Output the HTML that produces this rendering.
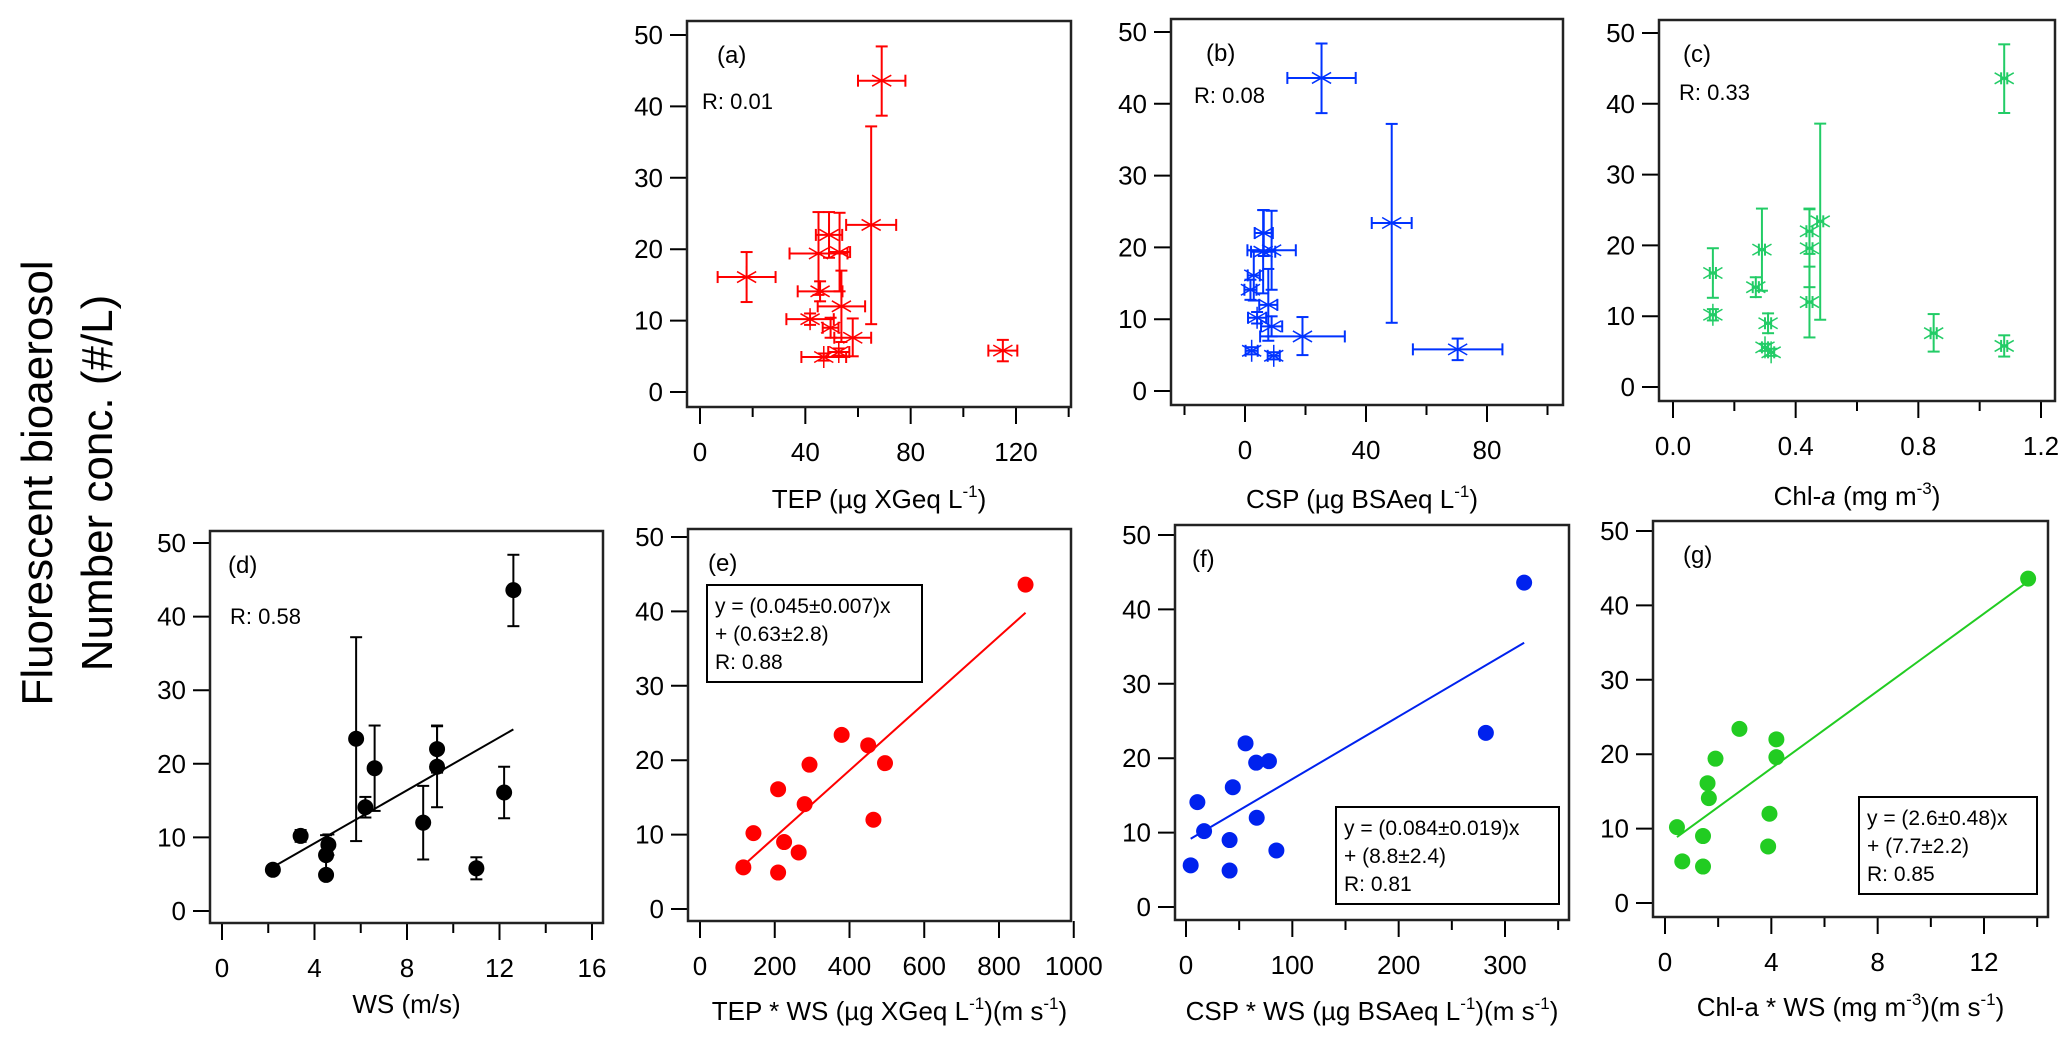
<!DOCTYPE html>
<html><head><meta charset="utf-8"><style>
html,body{margin:0;padding:0;background:#fff;}
svg{display:block;font-family:"Liberation Sans",Arial,sans-serif;}
</style></head><body>
<svg id="fig" width="2067" height="1047" viewBox="0 0 2067 1047" xmlns="http://www.w3.org/2000/svg">
<g font-size="44" fill="#000" text-anchor="middle">
<text transform="translate(52,483) rotate(-90)">Fluorescent bioaerosol</text>
<text transform="translate(112,483) rotate(-90)">Number conc. (#/L)</text>
</g>
</svg>
<script>
// ---- data (14 sampling points) ----
const concVals  = [5.6, 10.2, 4.9, 7.6, 9.0, 23.4, 14.1, 19.4, 12.0, 22.0, 19.6, 5.8, 16.1, 43.6];
const concLow   = [5.1, 9.4, 4.4, 5.0, 7.6, 9.5, 12.7, 13.6, 7.0, 18.8, 14.1, 4.3, 12.6, 38.7];
const concHigh  = [6.1, 11.0, 5.4, 10.3, 10.4, 37.2, 15.5, 25.2, 17.0, 25.2, 25.1, 7.3, 19.6, 48.4];
const wsVals    = [2.2, 3.4, 4.5, 4.5, 4.6, 5.8, 6.2, 6.6, 8.7, 9.3, 9.3, 11.0, 12.2, 12.6];
const tepVals   = [52.7, 41.8, 47, 58, 49.6, 65, 45.6, 45, 53.7, 49, 53, 115, 17.7, 69];
const tepErr    = [4, 9, 8.5, 7, 3, 9.5, 8.5, 11, 9, 5, 4, 5.5, 11, 9];
const cspVals   = [2.2, 4, 9.5, 19, 8.8, 48.5, 1.8, 6, 7.7, 6.2, 8.8, 70.3, 2.9, 25.3];
const cspErr    = [2, 3, 2, 14, 3.5, 6.6, 2, 4, 3, 3, 8, 14.8, 2, 11.3];
const chlVals   = [0.30, 0.13, 0.32, 0.85, 0.31, 0.48, 0.27, 0.29, 0.445, 0.445, 0.445, 1.08, 0.13, 1.08];
const chlErr    = [0.01, 0.01, 0.01, 0.01, 0.01, 0.01, 0.01, 0.01, 0.01, 0.01, 0.01, 0.01, 0.01, 0.01];
const tepWsVals = [116, 143, 209, 264, 225, 379, 280, 293, 464, 450, 495, null, 209, 871];
const cspWsVals = [4.4, 17, 41, 85, 41, 282, 10.7, 66, 66.5, 56, 78, null, 44, 318];
const chlWsVals = [0.65, 0.45, 1.43, 3.88, 1.43, 2.8, 1.65, 1.9, 3.93, 4.19, 4.19, null, 1.6, 13.66];
const fitSlopes     = [1.8, 0.045, 0.084, 2.6];
const fitIntercepts = [2.0, 0.63, 8.8, 7.7];
const yTicks = [0, 10, 20, 30, 40, 50];
const xTicksA = [0, 40, 80, 120];   const xMinorA = [20, 60, 100, 140];
const xTicksB = [0, 40, 80];        const xMinorB = [-20, 20, 60, 100];
const xTicksC = [0.0, 0.4, 0.8, 1.2]; const xMinorC = [0.2, 0.6, 1.0];
const xTicksD = [0, 4, 8, 12, 16];  const xMinorD = [2, 6, 10, 14];
const xTicksE = [0, 200, 400, 600, 800, 1000]; const xMinorE = [];
const xTicksF = [0, 100, 200, 300]; const xMinorF = [50, 150, 250, 350];
const xTicksG = [0, 4, 8, 12];      const xMinorG = [2, 6, 10, 14];

const NS = "http://www.w3.org/2000/svg";
const svg = document.getElementById('fig');
function mk(tag, attrs, parent) {
  const e = document.createElementNS(NS, tag);
  for (const k in attrs) e.setAttribute(k, attrs[k]);
  (parent || svg).appendChild(e);
  return e;
}
function txt(parent, x, y, s, size, anchor) {
  const t = mk('text', {x: x, y: y, 'font-size': size, 'text-anchor': anchor || 'start', fill: '#000'}, parent);
  t.innerHTML = s;
  return t;
}

function panel(cfg) {
  const g = mk('g', {});
  
  
  const b = cfg.box;
  const sx = v => cfg.xr[1] + (v - cfg.xr[0]) * (cfg.xr[3] - cfg.xr[1]) / (cfg.xr[2] - cfg.xr[0]);
  const sy = v => cfg.yr[0] + (v - 0) * (cfg.yr[1] - cfg.yr[0]) / 50;
  const clipId = 'clip-' + cfg.id;
  const cp = mk('clipPath', {id: clipId}, g);
  mk('rect', {x: b.l, y: b.t, width: b.r - b.l, height: b.b - b.t}, cp);
  const ya = mk('g', {stroke: '#000', 'stroke-width': 2}, g);
  
  
  yTicks.forEach(v => {
    mk('line', {x1: b.l - 17, x2: b.l, y1: sy(v), y2: sy(v)}, ya);
    const t = txt(g, b.l - 24, sy(v) + 9, String(v), 26, 'end');
    
    
  });
  const xa = mk('g', {stroke: '#000', 'stroke-width': 2}, g);
  
  
  cfg.xt.forEach(v => {
    mk('line', {x1: sx(v), x2: sx(v), y1: b.b, y2: b.b + 17}, xa);
    const t = txt(g, sx(v), b.b + 54, cfg.fmt ? v.toFixed(1) : String(v), 26, 'middle');
    
    
  });
  cfg.xm.forEach(v => {
    mk('line', {x1: sx(v), x2: sx(v), y1: b.b, y2: b.b + 10}, xa);
  });
  const fr = mk('rect', {x: b.l, y: b.t, width: b.r - b.l, height: b.b - b.t, fill: 'none', stroke: '#222', 'stroke-width': 2.5}, g);
  
  
  const xt = txt(g, (b.l + b.r) / 2 + (cfg.titleDx || 0), cfg.titleY, cfg.title, 26, 'middle');
  
  
  const lb = txt(g, b.l + cfg.labDx, b.t + 42, '(' + cfg.id + ')', 24, 'start');
  
  
  if (cfg.r) {
    const rt = txt(g, b.l + cfg.rDx, b.t + cfg.rDy, cfg.r, 22, 'start');
    
    
  }
  const marks = mk('g', {'clip-path': 'url(#' + clipId + ')'}, g);
  
  
  if (cfg.fit !== undefined) {
    const xs = cfg.xs.filter(v => v !== null);
    const x0 = Math.min(...xs), x1 = Math.max(...xs);
    const m = fitSlopes[cfg.fit], c = fitIntercepts[cfg.fit];
    const fl = mk('line', {x1: sx(x0), y1: sy(m * x0 + c), x2: sx(x1), y2: sy(m * x1 + c), stroke: cfg.color, 'stroke-width': 2}, marks);
    
    
  }
  cfg.xs.forEach((xv, i) => {
    if (xv === null) return;
    const px = sx(xv), py = sy(concVals[i]);
    const pg = mk('g', {stroke: cfg.color, 'stroke-width': 2, fill: cfg.color}, marks);
    
    
    if (cfg.yerr) {
      const lo = sy(concLow[i]), hi = sy(concHigh[i]);
      mk('line', {x1: px, x2: px, y1: lo, y2: hi}, pg);
      mk('line', {x1: px - 6, x2: px + 6, y1: lo, y2: lo}, pg);
      mk('line', {x1: px - 6, x2: px + 6, y1: hi, y2: hi}, pg);
    }
    if (cfg.xerr) {
      const l = sx(xv - cfg.xerr[i]), r = sx(xv + cfg.xerr[i]);
      mk('line', {x1: l, x2: r, y1: py, y2: py}, pg);
      mk('line', {x1: l, x2: l, y1: py - 6, y2: py + 6}, pg);
      mk('line', {x1: r, x2: r, y1: py - 6, y2: py + 6}, pg);
    }
    if (cfg.star) {
      const s = 11;
      mk('line', {x1: px, x2: px, y1: py - s, y2: py + s, 'stroke-width': 1.5}, pg);
      mk('line', {x1: px - s * 0.87, x2: px + s * 0.87, y1: py - s * 0.5, y2: py + s * 0.5, 'stroke-width': 1.5}, pg);
      mk('line', {x1: px - s * 0.87, x2: px + s * 0.87, y1: py + s * 0.5, y2: py - s * 0.5, 'stroke-width': 1.5}, pg);
    } else {
      mk('circle', {cx: px, cy: py, r: 8, stroke: 'none'}, pg);
    }
  });
  if (cfg.eq) {
    const eb = mk('g', {}, g);
    
    
    const e = cfg.eq;
    mk('rect', {x: e.x, y: e.y, width: e.w, height: 97, fill: '#fff', stroke: '#000', 'stroke-width': 2}, eb);
    e.lines.forEach((s, k) => txt(eb, e.x + 8, e.y + 28 + k * 28, s, 21, 'start'));
  }
}

const sup = (s, after) => '<tspan dy="-11" font-size="17">' + s + '</tspan><tspan dy="11">' + after + '</tspan>';
panel({id: 'a', box: {l: 687, r: 1071, t: 21, b: 407}, xr: [0, 700, 120, 1016], yr: [392, 35],
  xt: xTicksA, xm: xMinorA, xs: tepVals, xerr: tepErr, yerr: true, star: true, color: '#ff0000',
  title: 'TEP (µg XGeq  L' + sup('-1', ')'), titleY: 508, labDx: 30, r: 'R: 0.01', rDx: 15, rDy: 88});
panel({id: 'b', box: {l: 1171, r: 1563, t: 19, b: 405}, xr: [0, 1245, 80, 1487], yr: [391, 32],
  xt: xTicksB, xm: xMinorB, xs: cspVals, xerr: cspErr, yerr: true, star: true, color: '#0033ff',
  title: 'CSP (µg BSAeq  L' + sup('-1', ')'), titleY: 508, titleDx: -5, labDx: 35, r: 'R: 0.08', rDx: 23, rDy: 84});
panel({id: 'c', box: {l: 1659, r: 2055, t: 20, b: 401}, xr: [0, 1673, 1.2, 2041], yr: [387, 33], fmt: true,
  xt: xTicksC, xm: xMinorC, xs: chlVals, xerr: chlErr, yerr: true, star: true, color: '#22cc66',
  title: 'Chl-<tspan font-style="italic">a</tspan> (mg m' + sup('-3', ')'), titleY: 505, labDx: 24, r: 'R: 0.33', rDx: 20, rDy: 80});
panel({id: 'd', box: {l: 210, r: 603, t: 531, b: 923}, xr: [0, 222, 16, 592], yr: [911, 543],
  xt: xTicksD, xm: xMinorD, xs: wsVals, yerr: true, star: false, color: '#000', fit: 0,
  title: 'WS (m/s)', titleY: 1013, labDx: 18, r: 'R: 0.58', rDx: 20, rDy: 93});
panel({id: 'e', box: {l: 688, r: 1071, t: 529, b: 921}, xr: [0, 700, 800, 999], yr: [909, 537],
  xt: xTicksE, xm: xMinorE, xs: tepWsVals, star: false, color: '#ff0000', fit: 1,
  title: 'TEP * WS (µg XGeq  L' + sup('-1', ')(m s') + sup('-1', ')'), titleY: 1020, titleDx: 10, labDx: 20,
  eq: {x: 707, y: 585, w: 215, lines: ['y = (0.045±0.007)x', '+ (0.63±2.8)', 'R: 0.88']}});
panel({id: 'f', box: {l: 1175, r: 1569, t: 525, b: 920}, xr: [0, 1186, 300, 1505], yr: [907, 535],
  xt: xTicksF, xm: xMinorF, xs: cspWsVals, star: false, color: '#0022ee', fit: 2,
  title: 'CSP * WS (µg BSAeq  L' + sup('-1', ')(m s') + sup('-1', ')'), titleY: 1020, titleDx: 0, labDx: 17,
  eq: {x: 1336, y: 807, w: 223, lines: ['y = (0.084±0.019)x', '+ (8.8±2.4)', 'R: 0.81']}});
panel({id: 'g', box: {l: 1653, r: 2048, t: 521, b: 917}, xr: [0, 1665, 12, 1984], yr: [903, 531],
  xt: xTicksG, xm: xMinorG, xs: chlWsVals, star: false, color: '#22cc22', fit: 3,
  title: 'Chl-a * WS  (mg m' + sup('-3', ')(m s') + sup('-1', ')'), titleY: 1016, titleDx: 0, labDx: 30,
  eq: {x: 1859, y: 797, w: 178, lines: ['y = (2.6±0.48)x', '+ (7.7±2.2)', 'R: 0.85']}});
</script>
</body></html>
